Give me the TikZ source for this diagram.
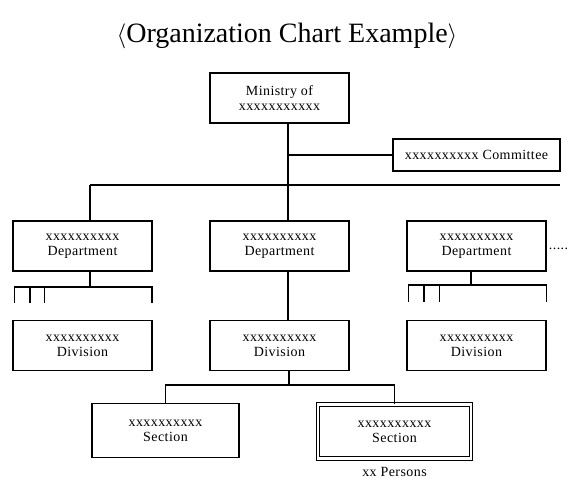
\documentclass[tikz,border=0pt]{standalone}
\usepackage{fontspec}
\setmainfont{Liberation Serif}[LetterSpace=3]
\usepackage{tikz}
\usetikzlibrary{positioning}

\begin{document}
\begin{tikzpicture}[x=1pt, y=1pt, node distance=197pt, line width=1.2pt,
	main node/.style={draw,minimum width=139pt,minimum height=50pt,inner sep=0pt,align=center,font=\fontsize{14}{15}\selectfont},
	double node/.style={main node,double,double distance=2.5pt,minimum width=153pt,minimum height=54pt},
	plain node/.style={inner sep=0pt,font=\fontsize{14}{15}\selectfont}]
	
	\useasboundingbox (0,0) rectangle (571,480);
	
	\node[anchor=base,font=\fontsize{28}{30}\selectfont\addfontfeature{LetterSpace=0}] (title) at (287,437) {$\langle$Organization Chart Example$\rangle$};
	
	\node[main node] (mini) at (279.5,382) {Ministry of\\xxxxxxxxxxx};
	\node[main node] (dep2) [below of=mini, node distance=148pt] {xxxxxxxxxx\\Department};
	\node[main node] (dep1) [left of=dep2] {xxxxxxxxxx\\Department};
	\node[main node] (dep3) [right of=dep2] {xxxxxxxxxx\\Department};
	\node[main node, minimum width=167pt, minimum height=32pt] (comm) [above of=dep3, node distance=91pt] {xxxxxxxxxx Committee};
	\node[plain node] (more) [right of=dep3, node distance=82pt, yshift=-3pt] {.....};
	
	\node[main node] (div2) [below of=dep2, node distance=99.5pt] {xxxxxxxxxx\\Division};
	\node[main node] (div1) [left of=div2] {xxxxxxxxxx\\Division};
	\node[main node] (div3) [right of=div2] {xxxxxxxxxx\\Division};
	
	\node[main node, minimum width=147pt, minimum height=54pt] (sec1) [below of=div2, node distance=85pt, xshift=-114pt] {xxxxxxxxxx\\Section};
	\node[double node] (sec2) [below of=div2, node distance=86pt, xshift=115pt] {xxxxxxxxxx\\Section};
	\node[plain node] (pers) [below of=sec2, node distance=40pt] {xx Persons};
	
	% buses
	\coordinate (spine) at (288,295);
	\coordinate (busL) at (90,295);
	\coordinate (busR) at (560,295);
	\coordinate (brL) at (90,193);
	\coordinate (brR) at (471,195);
	\coordinate (secbus) at (289,95);
	
	\draw (mini.south -| spine) -- (dep2.north -| spine);
	\draw (spine |- comm.west) -- (comm.west);
	\draw (busL) -- (busR);
	\draw (busL) -- (busL |- dep1.north);
	\draw (dep2.south -| spine) -- (div2.north -| spine);
	
	\draw (brL |- dep1.south) -- (brL);
	\draw (14.5,177) |- (152,193) -- (152,177)
		(30,193) -- (30,177)
		(44.5,193) -- (44.5,177);
	
	\draw (brR |- dep3.south) -- (brR);
	\draw (408.5,178) |- (546.5,195) -- (546.5,178)
		(424,195) -- (424,178)
		(439.5,195) -- (439.5,178);
	
	\draw (div2.south -| secbus) -- (secbus);
	\draw (sec1.north) |- (secbus) -| (sec2.north);
	\end{tikzpicture}
\end{document}
